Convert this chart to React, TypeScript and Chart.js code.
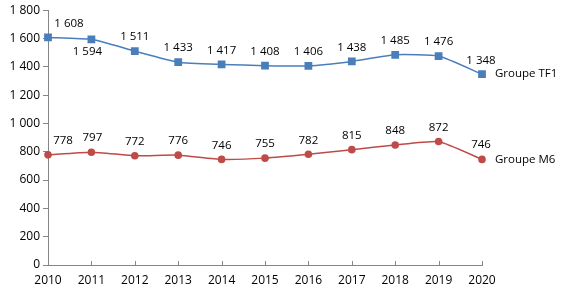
import React, { useEffect, useRef } from "react";
import { Chart, registerables } from "chart.js";

Chart.register(...registerables);

const years = ["2010", "2011", "2012", "2013", "2014", "2015", "2016", "2017", "2018", "2019", "2020"];
const tf1Values = [1608, 1594, 1511, 1433, 1417, 1408, 1406, 1438, 1485, 1476, 1348];
const m6Values = [778, 797, 772, 776, 746, 755, 782, 815, 848, 872, 746];
const seriesNames = ["Groupe TF1", "Groupe M6"];
const yMin = 0;
const yMax = 1800;
const yStep = 200;

// label placement offsets (dx, dy) relative to the point
const tf1LabelOffsets: [number, number][] = [
  [21, -14], [-4, 12], [0, -14], [0, -14], [0, -14], [0, -14], [0, -14], [0, -14], [0, -14], [0, -14], [-1, -13],
];
const m6LabelOffsets: [number, number][] = [
  [15, -14], [1, -14], [0, -14], [0, -14], [0, -14], [0, -14], [0, -14], [0, -14], [0, -14], [0, -14], [-1, -15],
];

const BLUE = "#4A7EBB";
const RED = "#BE4B48";
const AXIS = "#868686";
const TEXT = "#000000";
const FONT = "'Open Sans', sans-serif";

const fmt = (v: number) => {
  const s = String(Math.round(v));
  return s.replace(/\B(?=(\d{3})+(?!\d))/g, " ");
};

const labelsPlugin = {
  id: "customLabels",
  afterDatasetsDraw(chart: any) {
    const ctx = chart.ctx;
    const area = chart.chartArea;
    const xScale = chart.scales.x;
    ctx.save();
    // inward x ticks
    ctx.strokeStyle = AXIS;
    ctx.lineWidth = 1;
    years.forEach((_, i) => {
      const x = Math.round(xScale.getPixelForValue(i)) + 0.5;
      ctx.beginPath();
      ctx.moveTo(x, area.bottom);
      ctx.lineTo(x, area.bottom - 4);
      ctx.stroke();
    });
    ctx.font = `11.5px ${FONT}`;
    ctx.fillStyle = TEXT;
    ctx.textAlign = "center";
    ctx.textBaseline = "middle";
    const offsets = [tf1LabelOffsets, m6LabelOffsets];
    chart.data.datasets.forEach((ds: any, di: number) => {
      const meta = chart.getDatasetMeta(di);
      meta.data.forEach((pt: any, i: number) => {
        const [dx, dy] = offsets[di][i];
        ctx.fillText(fmt(ds.data[i]), pt.x + dx, pt.y + dy);
      });
      const last = meta.data[meta.data.length - 1];
      ctx.textAlign = "left";
      ctx.fillText(seriesNames[di], last.x + 13, last.y);
      ctx.textAlign = "center";
    });
    ctx.restore();
  },
};

export default function App() {
  const ref = useRef<HTMLCanvasElement | null>(null);
  useEffect(() => {
    if (!ref.current) return;
    const chart = new Chart(ref.current, {
      type: "line",
      data: {
        labels: years,
        datasets: [
          {
            label: seriesNames[0],
            data: tf1Values,
            borderColor: BLUE,
            backgroundColor: BLUE,
            borderWidth: 1.5,
            pointStyle: "rect",
            pointRadius: 5.5,
            pointBorderWidth: 0,
            tension: 0.15,
          },
          {
            label: seriesNames[1],
            data: m6Values,
            borderColor: RED,
            backgroundColor: RED,
            borderWidth: 1.5,
            pointStyle: "circle",
            pointRadius: 3.8,
            pointBorderWidth: 0,
            tension: 0.15,
          },
        ],
      },
      options: {
        animation: false,
        responsive: false,
        layout: { padding: { top: 9, right: 82, left: 0, bottom: 0 } },
        plugins: { legend: { display: false }, tooltip: { enabled: false } },
        scales: {
          x: {
            offset: false,
            grid: { display: false, drawTicks: false },
            border: { display: true, color: AXIS, width: 1 },
            ticks: { color: TEXT, font: { family: FONT, size: 12 }, padding: 8, maxRotation: 0, autoSkip: false },
            afterFit: (s: any) => { s.height = 25; },
          },
          y: {
            min: yMin,
            max: yMax,
            grid: { display: true, drawOnChartArea: false, drawTicks: true, tickLength: 5, color: AXIS },
            border: { display: true, color: AXIS, width: 1 },
            ticks: { stepSize: yStep, color: TEXT, font: { family: FONT, size: 12 }, padding: 3, callback: (v: any) => fmt(Number(v)) },
            afterFit: (s: any) => { s.width = 48; },
          },
        },
      },
      plugins: [labelsPlugin],
    });
    return () => chart.destroy();
  }, []);
  return (
    <div style={{ position: "fixed", left: 0, top: 0, width: 564, height: 290, background: "#fff" }}>
      <canvas ref={ref} width={564} height={290} />
    </div>
  );
}
